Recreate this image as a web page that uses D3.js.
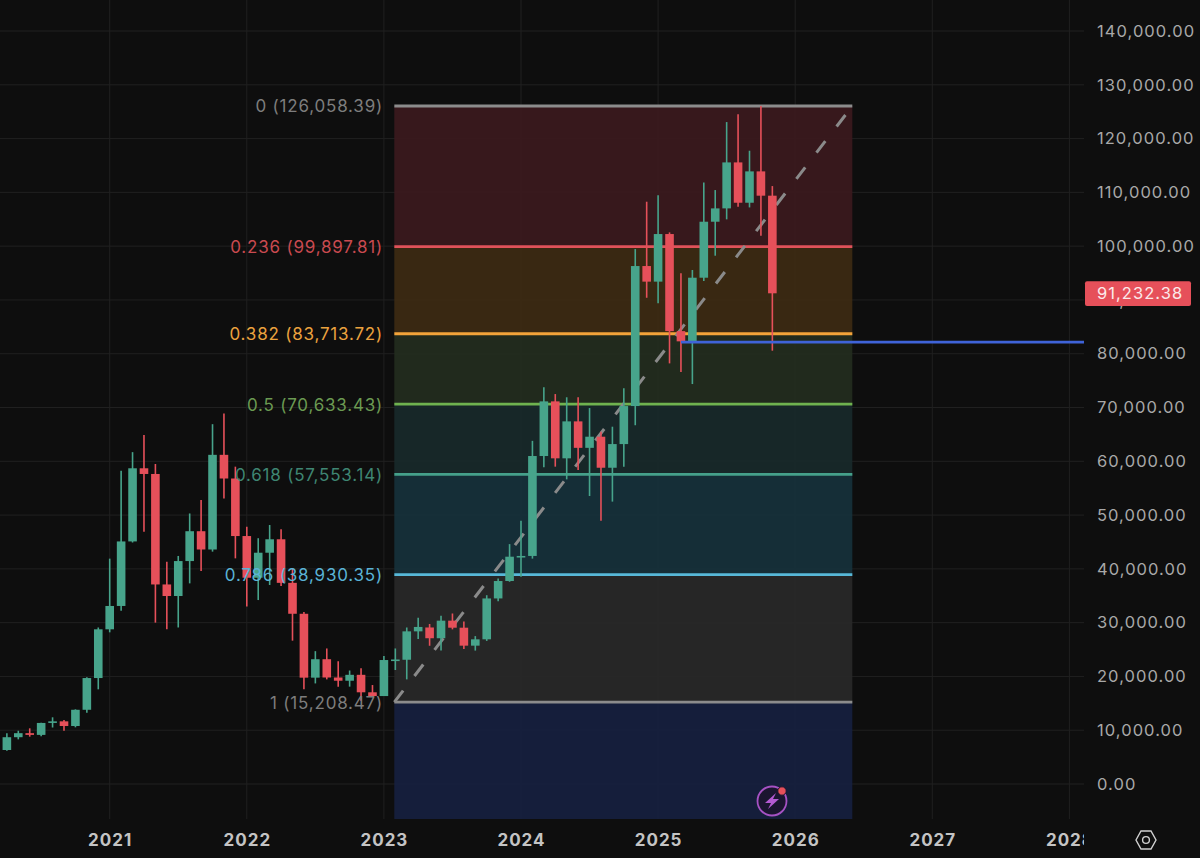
<!DOCTYPE html>
<html>
<head>
<meta charset="utf-8">
<script src="https://cdnjs.cloudflare.com/ajax/libs/d3/7.8.5/d3.min.js"></script>
<style>
  html, body { margin: 0; padding: 0; background: #0e0e0e; overflow: hidden; }
  text { font-family: Inter, "Noto Sans", sans-serif; }
</style>
</head>
<body>
<script>
// monthly bars, Apr 2020 to Nov 2025
const opens = [6320,8700,9450,9130,11350,11650,10780,13800,19700,28760,33100,45100,58700,57640,37100,34950,41450,47000,43600,61200,56800,46100,38350,43000,45500,37400,31650,19770,23200,19800,19200,20300,17050,16350,23050,23100,28380,29100,27100,30370,29060,25720,26900,34500,37740,42260,42400,60980,71140,60550,67420,62500,64570,58800,63200,70270,96300,93400,102250,84200,82300,94130,104540,107020,115570,108070,113900,109380];
const closes = [8700,9450,9130,11350,11650,10780,13800,19700,28760,33100,45100,58700,57640,37100,34950,41450,47000,43600,61200,56800,46100,38350,43000,45500,37400,31650,19770,23200,19800,19200,20300,17050,16350,23050,23150,28380,29200,27100,30370,29060,25720,26900,34500,37740,42260,42400,60980,71140,60550,67420,62500,64570,58800,63200,70270,96300,93400,102250,84200,82300,94130,104540,107020,115570,108070,113900,109380,91232.38];
const highs = [9420,9900,10350,11400,12400,11900,13880,19830,29100,41900,58250,61700,64900,59500,41300,42400,50300,52800,66900,68900,59000,47850,45700,48150,47350,40100,32000,24700,25200,22800,21100,21500,18400,23800,25200,29100,30900,29750,31300,31700,30200,27500,35100,38200,44600,48950,63800,73750,72500,71900,71900,69900,65500,66430,73560,99460,108260,109440,102560,94940,95560,111850,110430,123070,124500,117740,126058,111170];
const lows = [6200,8300,8800,8900,10500,9900,10540,13260,17600,28200,32200,44900,46900,30000,28750,29100,37300,39600,43200,53100,41950,33000,34200,37000,36800,26650,17600,18700,19450,18100,18100,15500,16250,16400,21200,19450,26950,25700,24800,28750,25100,24800,26600,34000,37600,38550,41900,58870,59000,56640,58400,53540,48950,52500,58990,66700,90400,89360,78200,76600,74360,93500,98220,104980,107330,107200,101940,80560];

const fibLevels = [0, 0.236, 0.382, 0.5, 0.618, 0.786, 1];
const fibPrices = [126058.39, 99897.81, 83713.72, 70633.43, 57553.14, 38930.35, 15208.47];
const fibColors = ["#8c8c8c", "#e0525a", "#f2a33a", "#6fb24f", "#45a08a", "#57b8d8", "#8c8c8c"];
const fibLabelColors = ["#7d7d7d", "#c94a50", "#eba23e", "#6b9a52", "#3f8673", "#5ab3d6", "#7d7d7d"];
const fibFills = ["#3a1a1e", "#3d2a13", "#232d1f", "#18292a", "#16313a", "#282828", "#16203f"];

const yearTicks = [2021, 2022, 2023, 2024, 2025, 2026, 2027, 2028];
const priceTicks = d3.range(0, 140001, 10000);
const lastPrice = 91232.38;
const rayPrice = 82150;
const rayStart = 59;   // Mar 2025
const fibStart = 34;   // Feb 2023
const fibEnd = 74;     // Jun 2026

const width = 1200, height = 858;
const plotRight = 1084, plotBottom = 819;
const up = "#47a48b", down = "#e6505a";

const x = d3.scaleLinear().domain([9, 93]).range([109.7, 1069.4]);
const yearIndex = yr => 9 + (yr - 2021) * 12;
const y = d3.scaleLinear().domain([0, 140000]).range([784, 31]);

const svg = d3.select("body").append("svg")
  .attr("width", width).attr("height", height)
  .style("display", "block").style("background", "#0e0e0e");

svg.append("defs").append("clipPath").attr("id", "plotClip")
  .append("rect").attr("x", 0).attr("y", 0).attr("width", plotRight).attr("height", height);

// grid
svg.append("g").selectAll("line").data(priceTicks).join("line")
  .attr("x1", 0).attr("x2", plotRight)
  .attr("y1", d => y(d)).attr("y2", d => y(d))
  .attr("stroke", "#202020");
svg.append("g").selectAll("line").data(yearTicks).join("line")
  .attr("x1", d => x(yearIndex(d))).attr("x2", d => x(yearIndex(d)))
  .attr("y1", 0).attr("y2", plotBottom)
  .attr("stroke", "#202020");

// fib bands
const bandBottoms = fibPrices.slice(1).concat([y.invert(plotBottom)]);
svg.append("g").selectAll("rect").data(fibPrices).join("rect")
  .attr("x", x(fibStart) - 1).attr("width", x(fibEnd) - x(fibStart) + 1)
  .attr("y", d => y(d))
  .attr("height", (d, i) => y(bandBottoms[i]) - y(d))
  .attr("fill", (d, i) => fibFills[i]).attr("fill-opacity", 0.94);

svg.append("g").selectAll("line").data(fibPrices).join("line")
  .attr("x1", x(fibStart) - 1).attr("x2", x(fibEnd))
  .attr("y1", d => y(d)).attr("y2", d => y(d))
  .attr("stroke", (d, i) => fibColors[i]).attr("stroke-width", 2.8);

// trend line
svg.append("line")
  .attr("x1", x(fibStart) - 1).attr("y1", y(fibPrices[6]))
  .attr("x2", x(fibEnd)).attr("y2", y(fibPrices[0]))
  .attr("stroke", "#8a8a8a").attr("stroke-width", 3)
  .attr("stroke-dasharray", "14.5 18.5");

// candles
const candles = svg.append("g").attr("clip-path", "url(#plotClip)")
  .selectAll("g").data(opens).join("g")
  .attr("fill", (d, i) => closes[i] >= d ? up : down)
  .attr("stroke", (d, i) => closes[i] >= d ? up : down);
candles.append("line")
  .attr("x1", (d, i) => x(i)).attr("x2", (d, i) => x(i))
  .attr("y1", (d, i) => y(highs[i])).attr("y2", (d, i) => y(lows[i]))
  .attr("stroke-width", 1.6);
candles.append("rect")
  .attr("x", (d, i) => x(i) - 4.3).attr("width", 8.6)
  .attr("y", (d, i) => y(Math.max(d, closes[i])))
  .attr("height", (d, i) => Math.max(1.6, Math.abs(y(d) - y(closes[i]))))
  .attr("stroke", "none");

// horizontal ray
svg.append("line")
  .attr("x1", x(rayStart)).attr("x2", plotRight)
  .attr("y1", y(rayPrice)).attr("y2", y(rayPrice))
  .attr("stroke", "#3f63d8").attr("stroke-width", 2.8);

// fib labels
svg.append("g").selectAll("text").data(fibPrices).join("text")
  .attr("x", 383).attr("y", d => y(d) + 6.5)
  .attr("text-anchor", "end")
  .attr("font-size", 17)
  .attr("letter-spacing", 0.8)
  .attr("fill", (d, i) => fibLabelColors[i])
  .text((d, i) => `${fibLevels[i]} (${d3.format(",.2f")(d)})`);

// axes
const yAxis = d3.axisRight(y).tickValues(priceTicks).tickFormat(d3.format(",.2f")).tickSize(0).tickPadding(0);
const yG = svg.append("g").attr("transform", "translate(1097,0)").call(yAxis);
yG.select(".domain").remove();
yG.selectAll("text").attr("font-size", 16.5).attr("fill", "#a8a8a8")
  .attr("font-family", "Inter, sans-serif").attr("letter-spacing", 1.05);

const xAxis = d3.axisBottom(x).tickValues(yearTicks.map(yearIndex))
  .tickFormat(d => 2021 + (d - 9) / 12).tickSize(0).tickPadding(0);
const xG = svg.append("g").attr("transform", "translate(0,834)").attr("clip-path", "url(#xClip)").call(xAxis);
svg.select("defs").append("clipPath").attr("id", "xClip")
  .append("rect").attr("x", 0).attr("y", -10).attr("width", plotRight).attr("height", 40);
xG.select(".domain").remove();
xG.selectAll("text").attr("font-size", 17).attr("font-weight", 700).attr("fill", "#c4c4c4")
  .attr("font-family", "Inter, sans-serif").attr("letter-spacing", 1);

// last price tag
const tag = svg.append("g").attr("transform", `translate(0,${y(lastPrice)})`);
tag.append("rect").attr("x", 1085).attr("y", -12).attr("width", 106).attr("height", 24.8).attr("rx", 2).attr("fill", "#e6505a");
tag.append("text").attr("x", 1097).attr("y", 6).attr("font-size", 16.5).attr("letter-spacing", 1.05)
  .attr("fill", "#fbeaea").text(d3.format(",.2f")(lastPrice));

// lightning badge
const badge = svg.append("g").attr("transform", "translate(772,801)");
badge.append("circle").attr("r", 14.5).attr("fill", "#1b1530").attr("stroke", "#a652c4").attr("stroke-width", 1.8);
badge.append("path").attr("d", "M4,-8 L-7,2 L-1,2 L-4,8 L7,-2 L1,-2 Z").attr("fill", "#b45ad2");
badge.append("circle").attr("cx", 10).attr("cy", -10).attr("r", 4.2).attr("fill", "#e6505a").attr("stroke", "#1b1530");

// settings icon
const gear = svg.append("g").attr("transform", "translate(1146,840)")
  .attr("fill", "none").attr("stroke", "#d0d0d0").attr("stroke-width", 1.4);
gear.append("path").attr("d", "M-10,0 L-5,-9 L5,-9 L10,0 L5,9 L-5,9 Z");
gear.append("circle").attr("r", 3.4);
</script>
</body>
</html>
